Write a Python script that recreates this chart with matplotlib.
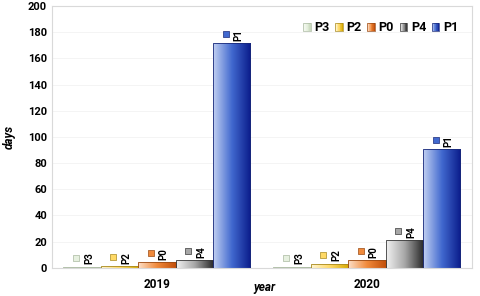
import matplotlib
matplotlib.use("Agg")
import matplotlib.pyplot as plt
import numpy as np
from matplotlib.colors import LinearSegmentedColormap
from matplotlib.patches import Patch, Rectangle
from matplotlib.legend_handler import HandlerPatch
from matplotlib.transforms import offset_copy

# Data
years = ["2019", "2020"]
series = ["P3", "P2", "P0", "P4", "P1"]
values = {
    "P3": [1.0, 1.0],
    "P2": [1.5, 3.3],
    "P0": [4.8, 6.1],
    "P4": [6.3, 21.4],
    "P1": [171.7, 90.8],
}

# gradient colours (light -> mid -> dark), edge colour
grads = {
    "P3": ["#f7fbf4", "#e6f0df", "#c9d9bd"],
    "P2": ["#fff6d5", "#ffd966", "#d6a800"],
    "P0": ["#fde0c8", "#f08a3c", "#c24f0a"],
    "P4": ["#f2f2f2", "#a6a6a6", "#262626"],
    "P1": ["#c3d1f2", "#4169cf", "#0a1b8a"],
}
edges = {"P3": "#a9b8a0", "P2": "#a88a20", "P0": "#9a4a14",
         "P4": "#3a3a3a", "P1": "#1a2a7a"}

plt.rcParams["font.family"] = ["Roboto", "DejaVu Sans"]

fig = plt.figure(figsize=(4.8, 2.96), dpi=100)
ax = fig.add_axes([0.108, 0.095, 0.875, 0.885])

width = 0.178
x = np.arange(len(years))
cmaps = {k: LinearSegmentedColormap.from_list(k, v) for k, v in grads.items()}
grad_img = np.linspace(0, 1, 256).reshape(1, -1)

for i, s in enumerate(series):
    xs = x + (i - 2) * width
    bars = ax.bar(xs, values[s], width, facecolor="none", edgecolor=edges[s],
                  linewidth=0.6, zorder=3)
    for b in bars:
        x0, y0 = b.get_x(), b.get_y()
        im = ax.imshow(grad_img, extent=[x0, x0 + b.get_width(), y0, y0 + b.get_height()],
                       aspect="auto", cmap=cmaps[s], zorder=2, interpolation="bilinear")
        im.set_clip_path(b)
    # small marker + rotated label above each bar
    mtrans = offset_copy(ax.transData, fig=fig, x=-6, y=9, units="dots")
    ax.scatter(xs, values[s], marker="s", s=14, c=grads[s][1],
               edgecolors=edges[s], linewidths=0.5, transform=mtrans, zorder=4)
    for xi, v in zip(xs, values[s]):
        ax.annotate(s, xy=(xi, v), xytext=(5, 1.5), textcoords="offset points",
                    rotation=90, ha="center", va="bottom", fontsize=7,
                    fontweight="bold", zorder=5)

ax.set_xlim(-0.5, 1.5)
ax.set_ylim(0, 200)
ax.set_yticks(np.arange(0, 201, 20))
ax.set_xticks(x)
ax.set_xticklabels(years)
ax.tick_params(length=0, labelsize=8)
ax.tick_params(axis="x", pad=7, labelsize=8.5)
for lab in ax.get_xticklabels() + ax.get_yticklabels():
    lab.set_fontweight("bold")
ax.yaxis.grid(True, color="#f2f2f2", linewidth=0.6, zorder=0)
for sp in ax.spines.values():
    sp.set_color("#d9d9d9")
    sp.set_linewidth(0.8)

ax.set_ylabel("days", fontsize=8.5, fontstyle="italic", fontweight="bold")
ax.yaxis.set_label_coords(-0.085, 0.5)
ax.set_xlabel("year", fontsize=8.5, fontstyle="italic", fontweight="bold")
ax.xaxis.set_label_coords(0.505, -0.05)


class GradHandler(HandlerPatch):
    def create_artists(self, legend, orig_handle, xdescent, ydescent,
                       width, height, fontsize, trans):
        cm = cmaps[orig_handle.get_label()]
        n = 12
        arts = []
        for k in range(n):
            r = Rectangle((-xdescent + k * width / n, -ydescent), width / n, height,
                          facecolor=cm(k / (n - 1)), edgecolor="none", transform=trans)
            arts.append(r)
        arts.append(Rectangle((-xdescent, -ydescent), width, height, facecolor="none",
                              edgecolor=edges[orig_handle.get_label()], linewidth=0.5,
                              transform=trans))
        return arts


handles = [Patch(label=s) for s in series]
ax.legend(handles=handles, labels=series, loc="upper right", ncol=5, frameon=False,
          prop={"weight": "bold", "size": 9}, handlelength=0.6, handleheight=0.6,
          handletextpad=0.3, columnspacing=0.45, bbox_to_anchor=(0.995, 0.985),
          handler_map={Patch: GradHandler()})

fig.savefig("out.png", dpi=100)
